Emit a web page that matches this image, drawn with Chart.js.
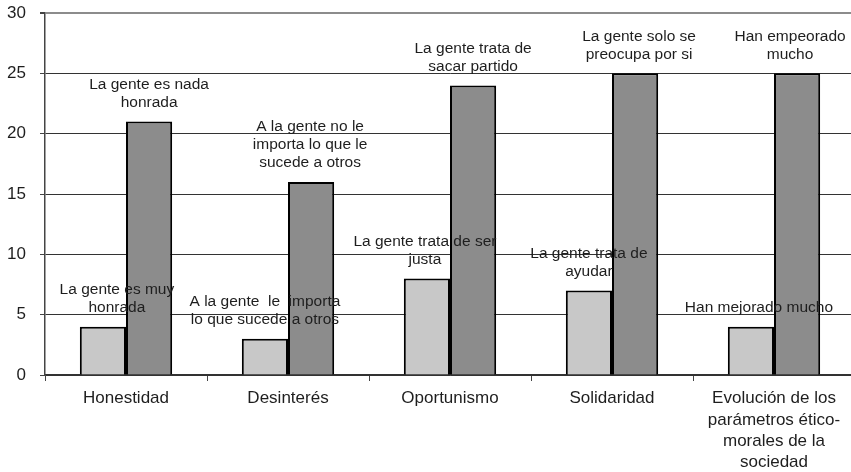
<!DOCTYPE html>
<html>
<head>
<meta charset="utf-8">
<script src="https://cdn.jsdelivr.net/npm/chart.js@4"></script>
<style>
  html, body { margin: 0; padding: 0; background: #fff; overflow: hidden; }
  .wrap { position: relative; width: 856px; height: 472px; }
</style>
</head>
<body>
<div class="wrap"><canvas id="chart"></canvas></div>
<script>
// data
const categories = [
  'Honestidad',
  'Desinterés',
  'Oportunismo',
  'Solidaridad',
  ['Evolución de los', 'parámetros ético-', 'morales de la', 'sociedad']
];
const positiveValues = [4, 3, 8, 7, 4];
const negativeValues = [21, 16, 24, 25, 25];
const yTicks = [0, 5, 10, 15, 20, 25, 30];

// text boxes above each bar
const positiveNotes = [
  ['La gente es muy', 'honrada'],
  ['A la gente  le  importa', 'lo que sucede a otros'],
  ['La gente trata de ser', 'justa'],
  ['La gente trata de', 'ayudar'],
  ['Han mejorado mucho']
];
const negativeNotes = [
  ['La gente es nada', 'honrada'],
  ['A la gente no le', 'importa lo que le', 'sucede a otros'],
  ['La gente trata de', 'sacar partido'],
  ['La gente solo se', 'preocupa por si'],
  ['Han empeorado', 'mucho']
];

const FONT = "'Liberation Sans', Arial, sans-serif";

// draws the note boxes over the bars
const notesPlugin = {
  id: 'notes',
  afterDatasetsDraw(chart, args, opts) {
    const ctx = chart.ctx;
    const y = chart.scales.y;
    ctx.save();
    ctx.font = '15.5px ' + FONT;
    ctx.fillStyle = '#1e1e1e';
    ctx.textAlign = 'center';
    ctx.textBaseline = 'middle';
    [positiveNotes, negativeNotes].forEach((notes, di) => {
      const meta = chart.getDatasetMeta(di);
      notes.forEach((lines, i) => {
        const bar = meta.data[i];
        const top = y.getPixelForValue(chart.data.datasets[di].data[i]);
        const cx = bar.x + opts.shift[di][i];
        lines.forEach((line, k) => {
          const ly = top - 19 - (lines.length - 1 - k) * 18;
          ctx.fillText(line, cx, ly);
        });
      });
    });
    ctx.restore();
  }
};

new Chart(document.getElementById('chart'), {
  type: 'bar',
  data: {
    labels: categories,
    datasets: [
      {
        label: 'Positivo',
        data: positiveValues,
        backgroundColor: '#c8c8c8',
        borderColor: '#000',
        borderWidth: 2,
        borderSkipped: 'bottom'
      },
      {
        label: 'Negativo',
        data: negativeValues,
        backgroundColor: '#8c8c8c',
        borderColor: '#000',
        borderWidth: 2,
        borderSkipped: 'bottom'
      }
    ]
  },
  options: {
    responsive: true,
    maintainAspectRatio: false,
    animation: false,
    categoryPercentage: 0.57,
    barPercentage: 1,
    layout: { padding: { top: 13, left: 0, right: 1, bottom: 0 } },
    plugins: {
      legend: { display: false },
      tooltip: { enabled: false },
      notes: {
        shift: [[14, 0, -2, 0, 8], [0, -1, 0, 4, -7]]
      }
    },
    scales: {
      x: {
        grid: {
          drawOnChartArea: false,
          offset: true,
          tickLength: 6,
          color: '#444',
          lineWidth: 1
        },
        border: { color: '#333', width: 1.5 },
        ticks: {
          color: '#1e1e1e',
          padding: 7,
          maxRotation: 0,
          autoSkip: false,
          font: { family: FONT, size: 17, lineHeight: 1.25 }
        },
        afterFit(scale) { scale.height = 97; }
      },
      y: {
        min: 0,
        max: 30,
        afterBuildTicks(scale) {
          scale.ticks = yTicks.map(v => ({ value: v }));
        },
        grid: {
          tickLength: 5,
          color: ctx => ctx.tick && ctx.tick.value === 30 ? '#8c8c8c' : '#333',
          lineWidth: ctx => ctx.tick && ctx.tick.value === 30 ? 2 : 1,
          tickColor: '#444'
        },
        border: { color: '#444', width: 1.5 },
        ticks: {
          color: '#1e1e1e',
          padding: 14,
          font: { family: FONT, size: 17 }
        },
        afterFit(scale) {
          scale.width = 45;
          scale.paddingTop = 0;
          scale.paddingBottom = 0;
        }
      }
    }
  },
  plugins: [notesPlugin]
});
</script>
</body>
</html>
